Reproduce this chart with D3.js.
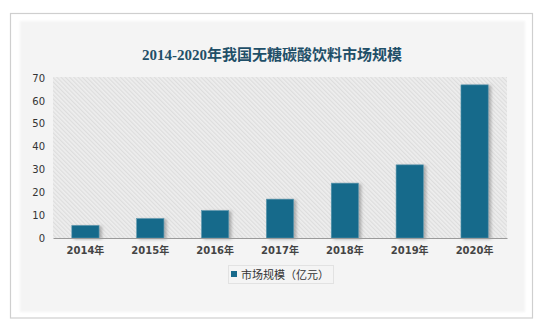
<!DOCTYPE html>
<html>
<head>
<meta charset="utf-8">
<script src="https://cdn.jsdelivr.net/npm/d3@7"></script>
<style>
  html, body { margin: 0; padding: 0; background: #ffffff; }
  svg { display: block; }
</style>
</head>
<body>
<svg id="chart" width="550" height="330"></svg>
<script>
// Market size of sugar-free carbonated drinks in China, 2014-2020 (亿元)
const years = ["2014年", "2015年", "2016年", "2017年", "2018年", "2019年", "2020年"];
const marketSize = [5.5, 8.5, 12, 17, 24, 32, 67];
const yTicks = [0, 10, 20, 30, 40, 50, 60, 70];
const titleText = "2014-2020年我国无糖碳酸饮料市场规模";
const legendText = "市场规模（亿元）";

const svg = d3.select("#chart");
const defs = svg.append("defs");

// diagonal hatch for the plot background
const hatch = defs.append("pattern")
  .attr("id", "hatch")
  .attr("patternUnits", "userSpaceOnUse")
  .attr("width", 3).attr("height", 3)
  .attr("patternTransform", "rotate(-45)");
hatch.append("rect").attr("width", 3).attr("height", 3).attr("fill", "#eeeeee");
hatch.append("rect").attr("width", 1.2).attr("height", 3).attr("fill", "#dddddd");

// soft shadow behind bars
const shadow = defs.append("filter").attr("id", "barShadow")
  .attr("x", "-30%").attr("y", "-10%").attr("width", "160%").attr("height", "130%");
shadow.append("feDropShadow")
  .attr("dx", 2.5).attr("dy", 1).attr("stdDeviation", 1.5)
  .attr("flood-color", "#777777").attr("flood-opacity", 0.55);

const blurEdge = defs.append("filter").attr("id", "softEdge");
blurEdge.append("feGaussianBlur").attr("stdDeviation", 1.2);

// outer frame and inner panel
svg.append("rect")
  .attr("x", 10.5).attr("y", 13.5).attr("width", 522).attr("height", 304.5)
  .attr("fill", "#ffffff").attr("stroke", "#cfcfcf").attr("stroke-width", 1.2);
svg.append("rect")
  .attr("x", 20).attr("y", 21).attr("width", 505).attr("height", 291)
  .attr("fill", "#f4f4f4").attr("filter", "url(#softEdge)");

// scales
const plot = { left: 53, right: 507, top: 78, bottom: 238 };
const x = d3.scaleBand().domain(years).range([plot.left, plot.right]).paddingInner(0.58).paddingOuter(0.29);
const y = d3.scaleLinear().domain([0, 70]).range([plot.bottom, plot.top]);

// hatched plot area
svg.append("rect")
  .attr("x", plot.left).attr("y", y(70) - 1)
  .attr("width", plot.right - plot.left).attr("height", y(0) - y(70) + 1)
  .attr("fill", "url(#hatch)");

// title
svg.append("text")
  .attr("x", 272).attr("y", 60)
  .attr("text-anchor", "middle")
  .attr("font-family", "'Liberation Serif', 'Noto Sans CJK SC', serif")
  .attr("font-weight", "bold")
  .attr("font-size", 15)
  .attr("fill", "#1f4f68")
  .text(titleText);

// y axis labels (no axis line)
const yAxis = d3.axisLeft(y).tickValues(yTicks).tickSize(0).tickPadding(8);
const gy = svg.append("g").attr("transform", `translate(${plot.left},0)`).call(yAxis);
gy.select(".domain").remove();
gy.selectAll("text")
  .attr("font-family", "'DejaVu Sans', sans-serif")
  .attr("font-size", 10)
  .attr("fill", "#333333");

// bars
svg.append("g").selectAll("rect")
  .data(marketSize)
  .join("rect")
  .attr("x", (d, i) => x(years[i]))
  .attr("y", d => y(d))
  .attr("width", x.bandwidth())
  .attr("height", d => y(0) - y(d))
  .attr("fill", "#176a8b")
  .attr("stroke", "#5a97ae")
  .attr("stroke-width", 0.6)
  .attr("filter", "url(#barShadow)");

// x axis baseline and labels
const xAxis = d3.axisBottom(x).tickSize(0).tickPadding(9);
const gx = svg.append("g").attr("transform", `translate(0,${plot.bottom})`).call(xAxis);
gx.select(".domain").attr("stroke", "#9a9a9a").attr("stroke-width", 1);
gx.selectAll("text")
  .attr("font-family", "'DejaVu Sans', 'Noto Sans CJK SC', sans-serif")
  .attr("font-size", 10)
  .attr("font-weight", "bold")
  .attr("fill", "#444444");

// legend
const legend = svg.append("g").attr("transform", "translate(228,265)");
legend.append("rect")
  .attr("x", 0.5).attr("y", 0.5).attr("width", 105).attr("height", 18)
  .attr("fill", "none").attr("stroke", "#e2e2e2");
legend.append("rect")
  .attr("x", 3).attr("y", 6).attr("width", 6).attr("height", 6)
  .attr("fill", "#176a8b");
legend.append("text")
  .attr("x", 13).attr("y", 13.5)
  .attr("font-family", "'Noto Sans CJK SC', sans-serif")
  .attr("font-size", 11)
  .attr("fill", "#333333")
  .text(legendText);
</script>
</body>
</html>
